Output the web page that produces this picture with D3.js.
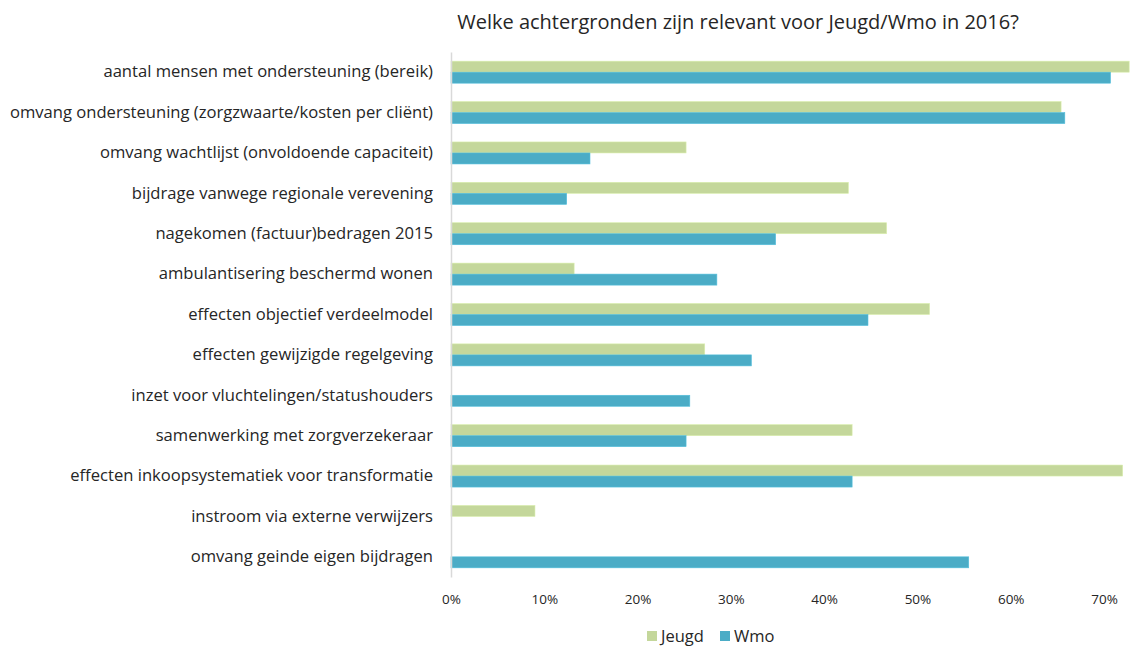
<!DOCTYPE html>
<html>
<head>
<meta charset="utf-8">
<script src="https://cdn.jsdelivr.net/npm/d3@7"></script>
<style>
  body { margin: 0; background: #fff; }
  svg text { font-family: "Open Sans", sans-serif; fill: #262626; }
</style>
</head>
<body>
<svg id="chart" width="1130" height="646"></svg>
<script>
const categories = [
  'aantal mensen met ondersteuning (bereik)',
  'omvang ondersteuning (zorgzwaarte/kosten per cliënt)',
  'omvang wachtlijst (onvoldoende capaciteit)',
  'bijdrage vanwege regionale verevening',
  'nagekomen (factuur)bedragen 2015',
  'ambulantisering beschermd wonen',
  'effecten objectief verdeelmodel',
  'effecten gewijzigde regelgeving',
  'inzet voor vluchtelingen/statushouders',
  'samenwerking met zorgverzekeraar',
  'effecten inkoopsystematiek voor transformatie',
  'instroom via externe verwijzers',
  'omvang geinde eigen bijdragen'
];
const seriesNames = ['Jeugd', 'Wmo'];
const jeugd = [0.727, 0.654, 0.252, 0.426, 0.467, 0.132, 0.513, 0.272, 0, 0.430, 0.720, 0.090, 0];
const wmo   = [0.707, 0.658, 0.149, 0.124, 0.348, 0.285, 0.447, 0.322, 0.256, 0.252, 0.430, 0, 0.555];
const ticks = [0, 0.1, 0.2, 0.3, 0.4, 0.5, 0.6, 0.7];
const colors = ['#c4d79b', '#4bacc6'];

const svg = d3.select('#chart'),
      margin = { top: 52, right: 26, bottom: 69, left: 451 },
      width = +svg.attr('width') - margin.left - margin.right,
      height = +svg.attr('height') - margin.top - margin.bottom;

const g = svg.append('g')
    .attr('transform', `translate(${margin.left},${margin.top})`);

const data = categories.map((c, i) => ({ cat: c, values: [jeugd[i], wmo[i]] }));

const x = d3.scaleLinear()
    .domain([0, 0.7])
    .range([0, 653]);

const y = d3.scaleBand()
    .domain(categories)
    .range([0, height])
    .paddingInner(0.455)
    .paddingOuter(0.227);

const ySub = d3.scaleBand()
    .domain(seriesNames)
    .range([0, y.bandwidth()]);

// title
svg.append('text')
  .attr('x', 738)
  .attr('y', 29)
  .attr('text-anchor', 'middle')
  .style('font-size', '20px')
  .text('Welke achtergronden zijn relevant voor Jeugd/Wmo in 2016?');

// bars
const groups = g.selectAll('.grp')
  .data(data)
  .enter().append('g')
    .attr('class', 'grp')
    .attr('transform', d => `translate(0,${y(d.cat)})`);

groups.selectAll('rect')
  .data(d => d.values.map((v, i) => ({ key: seriesNames[i], v, i })))
  .enter().append('rect')
    .attr('x', 0)
    .attr('y', d => ySub(d.key))
    .attr('width', d => x(d.v))
    .attr('height', ySub.bandwidth())
    .attr('fill', d => colors[d.i])
    .attr('stroke', d => d.v > 0 ? d3.color(colors[d.i]).brighter(0.3) : 'none')
    .attr('stroke-width', 0.6);

// category axis
const yAxis = g.append('g')
  .call(d3.axisLeft(y).tickSize(0).tickPadding(18));
yAxis.select('.domain').attr('stroke', '#d9d9d9').attr('stroke-width', 1.5);
yAxis.selectAll('text')
  .style('font-size', '16.6px')
  .attr('fill', '#262626');

// value axis labels (no line)
const xAxis = g.append('g')
  .attr('transform', `translate(0,${height})`)
  .call(d3.axisBottom(x).tickValues(ticks).tickFormat(d3.format('.0%')).tickSize(0).tickPadding(17));
xAxis.select('.domain').remove();
xAxis.selectAll('text')
  .style('font-size', '13.5px')
  .attr('fill', '#404040');

// legend
const legend = svg.append('g')
  .attr('transform', 'translate(647,636)');
const legendX = [0, 73];
seriesNames.forEach((s, i) => {
  legend.append('rect')
    .attr('x', legendX[i]).attr('y', -5)
    .attr('width', 10).attr('height', 10)
    .attr('fill', colors[i]);
  legend.append('text')
    .attr('x', legendX[i] + 14).attr('y', 6)
    .style('font-size', '16.5px')
    .attr('fill', '#404040')
    .text(s);
});
</script>
</body>
</html>
